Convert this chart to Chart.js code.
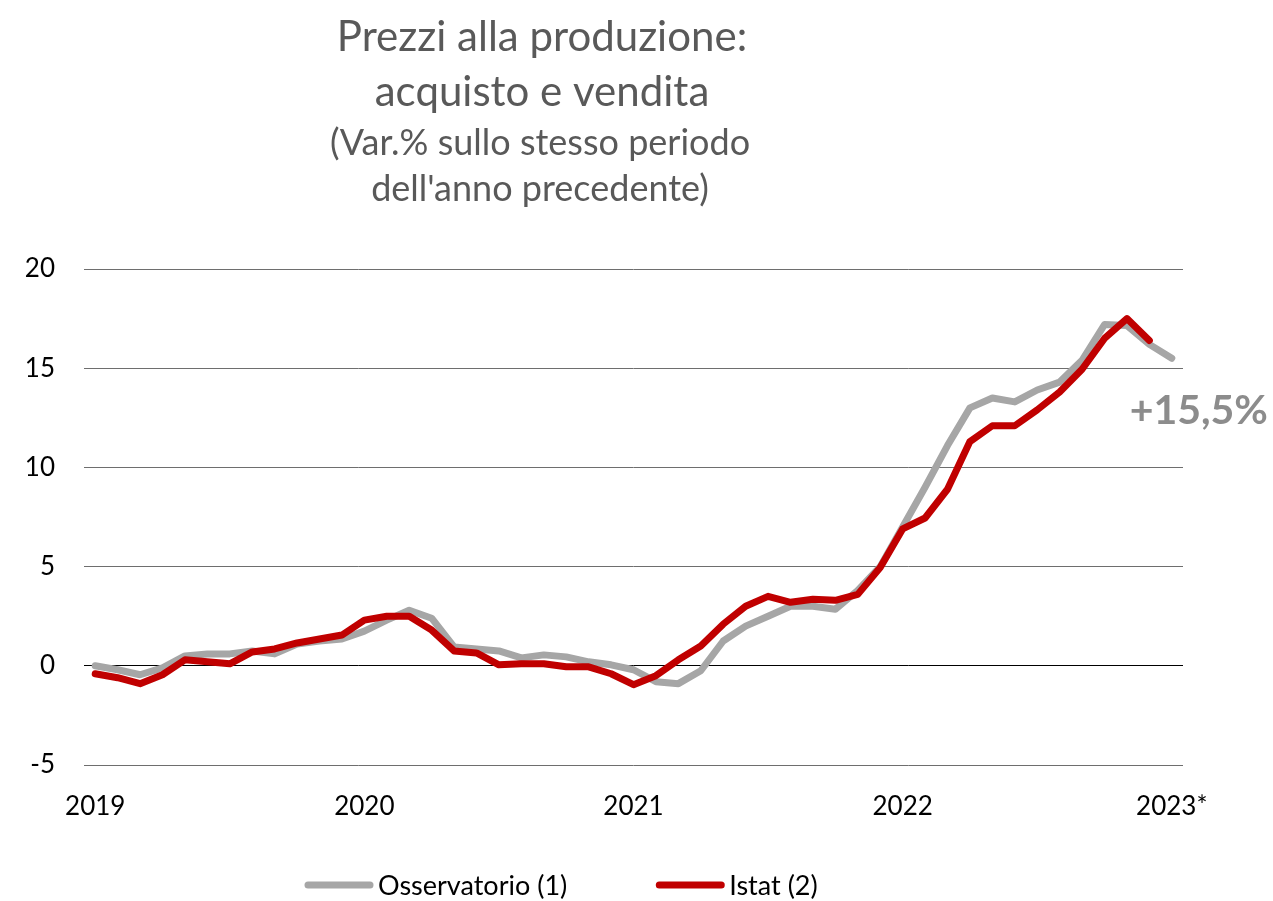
<!DOCTYPE html>
<html>
<head>
<meta charset="utf-8">
<title>Prezzi alla produzione</title>
<script src="https://cdn.jsdelivr.net/npm/chart.js@4"></script>
<style>
  body { margin: 0; background: #fff; }
  canvas { display: block; }
</style>
</head>
<body>
<canvas id="prezzi" width="1273" height="901"></canvas>
<script>
// mesi da gen 2019 a gen 2023
const anni = ['2019', '2020', '2021', '2022'];
const mesi = ['gen', 'feb', 'mar', 'apr', 'mag', 'giu', 'lug', 'ago', 'set', 'ott', 'nov', 'dic'];
const categorie = [];
anni.forEach(a => mesi.forEach(m => categorie.push(m + ' ' + a)));
categorie.push('gen 2023');

// etichette asse x (una per anno)
const tickAnni = ['2019', '2020', '2021', '2022', '2023*'];
const tickY = [-5, 0, 5, 10, 15, 20];

// Osservatorio (1)
const osservatorio = [
  0.0, -0.2, -0.45, -0.1, 0.5, 0.6, 0.6, 0.75, 0.6, 1.1, 1.25, 1.35,
  1.75, 2.3, 2.8, 2.4, 0.95, 0.85, 0.75, 0.4, 0.55, 0.45, 0.2, 0.05,
  -0.2, -0.8, -0.9, -0.25, 1.25, 2.0, 2.5, 3.0, 3.0, 2.85, 3.8, 5.0,
  7.0, 9.0, 11.1, 13.0, 13.5, 13.3, 13.9, 14.3, 15.4, 17.2, 17.15, 16.2,
  15.5
];

// Istat (2)
const istat = [
  -0.4, -0.6, -0.9, -0.45, 0.3, 0.2, 0.1, 0.7, 0.85, 1.15, 1.35, 1.55,
  2.3, 2.5, 2.5, 1.8, 0.75, 0.65, 0.05, 0.1, 0.1, -0.05, -0.05, -0.4,
  -0.95, -0.5, 0.3, 1.0, 2.1, 3.0, 3.5, 3.2, 3.35, 3.3, 3.6, 4.95,
  6.9, 7.45, 8.9, 11.3, 12.1, 12.1, 12.9, 13.8, 14.95, 16.5, 17.5, 16.4
];

const titolo = ['Prezzi alla produzione:', 'acquisto e vendita'];
const sottotitolo = ["(Var.% sullo stesso periodo", "dell'anno precedente)"];
const etichettaFinale = '+15,5%';

const FONT = 'Lato, "Open Sans", sans-serif';

// titolo, etichetta finale e legenda disegnati a mano
const decorazioni = {
  id: 'decorazioni',
  afterDraw(chart) {
    const ctx = chart.ctx;
    ctx.save();
    ctx.textAlign = 'center';
    ctx.textBaseline = 'middle';
    ctx.fillStyle = '#595959';
    ctx.font = '42px ' + FONT;
    ctx.fillText(titolo[0], 542, 37);
    ctx.fillText(titolo[1], 542, 92);
    ctx.font = '36px ' + FONT;
    ctx.fillText(sottotitolo[0], 540, 143);
    ctx.fillText(sottotitolo[1], 540, 189);

    // valore finale Osservatorio
    const meta = chart.getDatasetMeta(0);
    const ultimo = meta.data[meta.data.length - 1];
    ctx.font = 'bold 41px ' + FONT;
    ctx.fillStyle = '#8c8c8c';
    ctx.fillText(etichettaFinale, ultimo.x + 27, ultimo.y + 53);

    // legenda
    ctx.font = '27px ' + FONT;
    ctx.textAlign = 'left';
    ctx.fillStyle = '#000';
    ctx.lineCap = 'round';
    let x = 308;
    chart.data.datasets.forEach(ds => {
      ctx.strokeStyle = ds.borderColor;
      ctx.lineWidth = 7;
      ctx.beginPath();
      ctx.moveTo(x, 885);
      ctx.lineTo(x + 62, 885);
      ctx.stroke();
      ctx.fillText(ds.label, x + 70, 886);
      x += 70 + ctx.measureText(ds.label).width + 92;
    });
    ctx.restore();
  }
};

new Chart(document.getElementById('prezzi'), {
  type: 'line',
  data: {
    labels: categorie,
    datasets: [
      {
        label: 'Osservatorio (1)',
        data: osservatorio,
        borderColor: '#a6a6a6',
        backgroundColor: '#a6a6a6',
        borderWidth: 7,
        borderCapStyle: 'round',
        borderJoinStyle: 'round',
        pointRadius: 0,
        tension: 0,
        order: 1
      },
      {
        label: 'Istat (2)',
        data: istat,
        borderColor: '#c00000',
        backgroundColor: '#c00000',
        borderWidth: 7,
        borderCapStyle: 'round',
        borderJoinStyle: 'round',
        pointRadius: 0,
        tension: 0,
        order: 0
      }
    ]
  },
  options: {
    responsive: false,
    animation: false,
    layout: { padding: { top: 269, right: 90, left: 0, bottom: 0 } },
    plugins: {
      legend: { display: false },
      tooltip: { enabled: false },
      title: { display: false }
    },
    scales: {
      x: {
        type: 'category',
        offset: true,
        grid: { display: false, drawTicks: false },
        border: { display: false },
        ticks: {
          autoSkip: false,
          maxRotation: 0,
          padding: 26,
          color: '#000',
          font: { family: FONT, size: 26 },
          callback: (v, i) => (i % 12 === 0 ? tickAnni[i / 12] : null)
        },
        afterFit: s => { s.height = 136; }
      },
      y: {
        min: -5,
        max: 20,
        afterBuildTicks: s => { s.ticks = tickY.map(v => ({ value: v })); },
        grid: {
          drawTicks: false,
          lineWidth: 1,
          color: c => (c.tick.value === 0 ? '#000' : '#6e6e6e')
        },
        border: { display: false },
        ticks: {
          padding: 29,
          color: '#000',
          font: { family: FONT, size: 26 },
          callback: v => String(v)
        },
        afterFit: s => { s.width = 84; }
      }
    }
  },
  plugins: [decorazioni]
});
</script>
</body>
</html>
